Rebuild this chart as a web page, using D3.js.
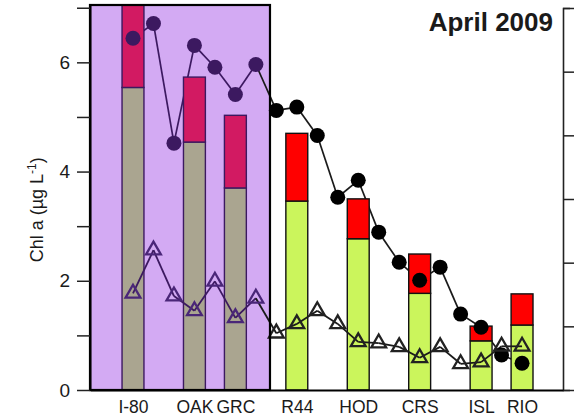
<!DOCTYPE html>
<html>
<head>
<meta charset="utf-8">
<script src="https://cdn.jsdelivr.net/npm/d3@7"></script>
<style>
body{margin:0;background:#fff;}
svg text{font-family:"Liberation Sans",Arial,sans-serif;fill:#1a1a1a;}
</style>
</head>
<body>
<script>
// sample stops along the transect (20 of them)
var samplePos = [0,1,2,3,4,5,6,7,8,9,10,11,12,13,14,15,16,17,18,19];

// filled circles
var circleVals = [6.44,6.71,4.52,6.31,5.91,5.41,5.96,5.12,5.18,4.66,3.53,3.84,2.89,2.34,2.01,2.25,1.39,1.15,0.64,0.49];
// open triangles
var triVals = [1.77,2.56,1.72,1.45,1.99,1.32,1.68,1.04,1.21,1.45,1.21,0.88,0.86,0.79,0.59,0.79,0.48,0.51,0.80,0.80];

// stacked bars at the named stations
var stationNames = ["I-80","OAK","GRC","R44","HOD","CRS","ISL","RIO"];
var stationPos = [0,3,5,8,11,14,17,19];
var lowerVals = [5.54,4.54,3.70,3.46,2.77,1.77,0.90,1.19];
var totalVals = [7.3,5.73,5.03,4.70,3.50,2.49,1.17,1.76];

// tick values
var yTicks = [0,1,2,3,4,5,6,7];
var yTickLabels = ["0","","2","","4","","6",""];
var rightTicks = [0,1,2,3,4,5,6];

// stretch of the transect that is shaded
var shadeRange = [-2.1,6.69];

var width = 577;
var height = 418;
var margin = {left:90, right:14, top:5, bottom:28};
var w = width - margin.left - margin.right;
var h = height - margin.top - margin.bottom;

var x = d3.scaleLinear()
            .domain([-2.1,21.0])
            .range([0,w]);

var y = d3.scaleLinear()
            .domain([0,7.05])
            .range([h,0]);

var yRight = d3.scaleLinear()
            .domain([0,6])
            .range([h,3]);

var inShade = function(p){ return p < shadeRange[1]; };

var svg = d3.select("body")
            .append("svg")
            .attr("width",width)
            .attr("height",height);

var chartGroup = svg.append("g")
            .attr("transform","translate("+margin.left+","+margin.top+")");

svg.append("clipPath")
        .attr("id","plotclip")
    .append("rect")
        .attr("x",0).attr("y",0)
        .attr("width",w).attr("height",h);

//purple box
chartGroup.append("rect")
        .attr("x",x(shadeRange[0]))
        .attr("y",0)
        .attr("width",x(shadeRange[1]) - x(shadeRange[0]))
        .attr("height",h)
        .attr("fill","#d3aaf3");

var circleData = samplePos.map(function(p,i){ return {p:p, v:circleVals[i]}; });
var triData = samplePos.map(function(p,i){ return {p:p, v:triVals[i]}; });

var line = d3.line()
            .x(function(d){ return x(d.p); })
            .y(function(d){ return y(d.v); });

// draw line pieces so the colour changes at the box edge
function drawLine(data,cls,sw){
    for(var i=0;i<data.length-1;i++){
        chartGroup.append("path")
            .attr("class",cls)
            .attr("d",line([data[i],data[i+1]]))
            .attr("fill","none")
            .attr("stroke",inShade(data[i+1].p) ? "#3c1960" : "#1a1a1a")
            .attr("stroke-width",sw);
    }
}

//circle line sits under the bars
drawLine(circleData,"cline",1.7);

//bars
var barW = (x(1) - x(0)) * 1.07;
var barData = stationPos.map(function(p,i){ return {p:p, lo:lowerVals[i], tot:totalVals[i], name:stationNames[i]}; });

var bars = chartGroup.append("g").attr("clip-path","url(#plotclip)");

bars.selectAll("rect.lo")
        .data(barData)
        .enter().append("rect")
        .attr("class","lo")
        .attr("x",function(d){ return x(d.p) - barW/2; })
        .attr("y",function(d){ return y(d.lo); })
        .attr("width",barW)
        .attr("height",function(d){ return y(0) - y(d.lo); })
        .attr("fill",function(d){ return inShade(d.p) ? "#aaa590" : "#cbf55c"; })
        .attr("stroke",function(d){ return inShade(d.p) ? "#3c1960" : "#111"; })
        .attr("stroke-width",1.4);

bars.selectAll("rect.hi")
        .data(barData)
        .enter().append("rect")
        .attr("class","hi")
        .attr("x",function(d){ return x(d.p) - barW/2; })
        .attr("y",function(d){ return y(d.tot); })
        .attr("width",barW)
        .attr("height",function(d){ return y(d.lo) - y(d.tot); })
        .attr("fill",function(d){ return inShade(d.p) ? "#d21a62" : "#ff0000"; })
        .attr("stroke",function(d){ return inShade(d.p) ? "#3c1960" : "#111"; })
        .attr("stroke-width",1.4);

//triangle line over the bars
drawLine(triData,"tline",1.8);

//markers
chartGroup.selectAll("circle.pt")
        .data(circleData)
        .enter().append("circle")
        .attr("class","pt")
        .attr("cx",function(d){ return x(d.p); })
        .attr("cy",function(d){ return y(d.v); })
        .attr("r",7.5)
        .attr("fill",function(d){ return inShade(d.p) ? "#3c1960" : "#000"; });

var tri = d3.symbol().type(d3.symbolTriangle).size(95);

chartGroup.selectAll("path.tri")
        .data(triData)
        .enter().append("path")
        .attr("class","tri")
        .attr("d",tri)
        .attr("transform",function(d){ return "translate("+x(d.p)+","+y(d.v)+")"; })
        .attr("fill","none")
        .attr("stroke",function(d){ return inShade(d.p) ? "#4a2678" : "#222"; })
        .attr("stroke-width",2.3);

//box border
chartGroup.append("rect")
        .attr("x",x(shadeRange[0]))
        .attr("y",0)
        .attr("width",x(shadeRange[1]) - x(shadeRange[0]))
        .attr("height",h)
        .attr("fill","none")
        .attr("stroke","#000")
        .attr("stroke-width",2.2);

//left axis
var yAxis = d3.axisLeft(y)
            .tickValues(yTicks)
            .tickFormat(function(d,i){ return yTickLabels[i]; })
            .tickSize(13)
            .tickSizeOuter(0)
            .tickPadding(7);

var gy = chartGroup.append("g")
        .attr("class","axis y")
        .call(yAxis);
gy.selectAll("text").style("font-size","19px");
gy.selectAll("line").attr("stroke","#222").attr("stroke-width",1.5);
gy.select(".domain").attr("stroke","#000").attr("stroke-width",2);

//right axis (labels are off the page)
var rAxis = d3.axisRight(yRight)
            .tickValues(rightTicks)
            .tickFormat("")
            .tickSize(11)
            .tickSizeOuter(7);

var gr = chartGroup.append("g")
        .attr("class","axis right")
        .attr("transform","translate("+w+",0)")
        .call(rAxis);
gr.selectAll("line").attr("stroke","#222").attr("stroke-width",1.5);
gr.select(".domain").attr("stroke","#222").attr("stroke-width",1.6);

//bottom axis, station names only
var xAxis = d3.axisBottom(x)
            .tickValues(stationPos)
            .tickFormat(function(d,i){ return stationNames[i]; })
            .tickSize(0)
            .tickSizeOuter(0)
            .tickPadding(11);

var gx = chartGroup.append("g")
        .attr("class","axis x")
        .attr("transform","translate(0,"+h+")")
        .call(xAxis);
gx.selectAll("text").style("font-size","17.5px");
gx.select(".domain").attr("stroke","#000").attr("stroke-width",2);

//y label
var ylab = svg.append("text")
        .attr("transform","translate(43,"+(margin.top + y(3.3))+") rotate(-90)")
        .attr("text-anchor","middle")
        .style("font-size","18px");
ylab.append("tspan").text("Chl a (µg L");
ylab.append("tspan")
        .attr("dy","-7")
        .style("font-size","12px")
        .text("-1");
ylab.append("tspan")
        .attr("dy","7")
        .text(")");

//title
svg.append("text")
        .attr("x",553)
        .attr("y",31)
        .attr("text-anchor","end")
        .style("font-size","26px")
        .style("font-weight","bold")
        .text("April 2009");
</script>
</body>
</html>
